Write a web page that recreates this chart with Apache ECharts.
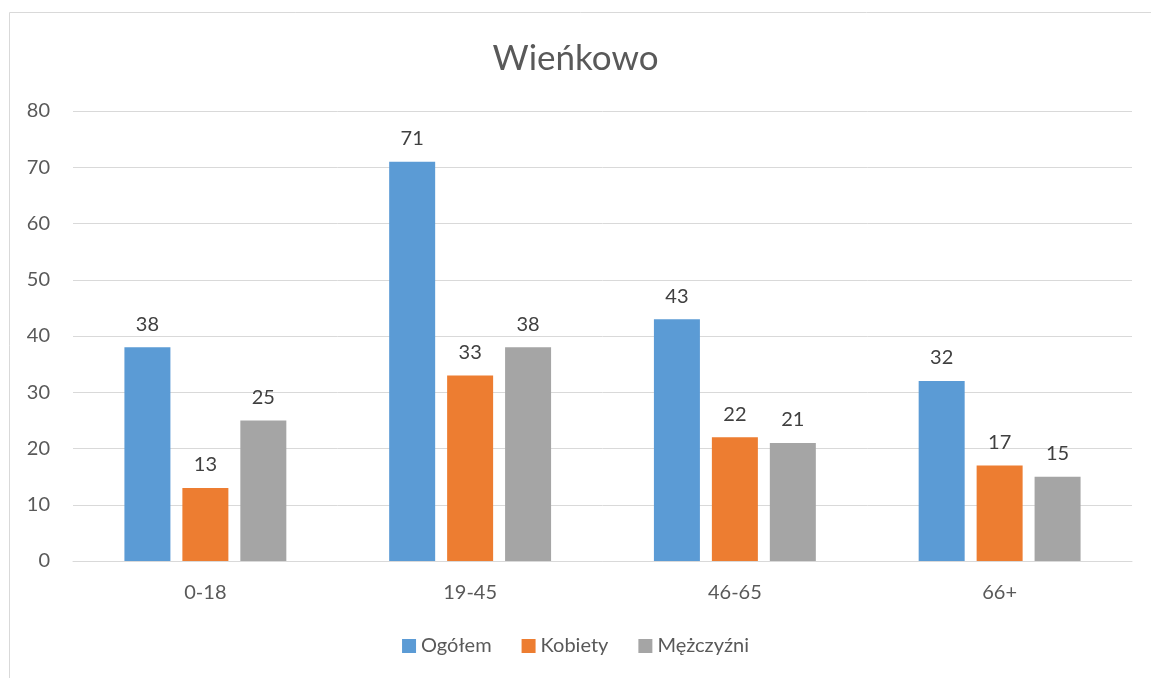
<!DOCTYPE html>
<html>
<head>
  <meta charset="utf-8" />
  <title>Wieńkowo</title>
  <style>
    html, body { margin: 0; padding: 0; background: #fff; }
    #main { width: 1151px; height: 678px; }
  </style>
</head>
<body>
  <div id="main"></div>
  <script src="https://cdn.jsdelivr.net/npm/echarts@6/dist/echarts.min.js"></script>
  <script>
    // data
    var categories = ['0-18', '19-45', '46-65', '66+'];
    var ogolem = [38, 71, 43, 32];
    var kobiety = [13, 33, 22, 17];
    var mezczyzni = [25, 38, 21, 15];
    var yTicks = { min: 0, max: 80, interval: 10 };

    var font = 'Lato, "Open Sans", sans-serif';
    var myChart = echarts.init(document.getElementById('main'));

    function barSeries(name, data, color) {
      return {
        name: name,
        type: 'bar',
        data: data,
        barWidth: 46,
        barGap: '26%',
        itemStyle: { color: color },
        label: {
          show: true,
          position: 'top',
          distance: 13,
          color: '#404040',
          fontSize: 20,
          fontFamily: font
        }
      };
    }

    var option = {
      animation: false,
      textStyle: { fontFamily: font },
      title: {
        text: 'Wieńkowo',
        left: 'center',
        top: 36,
        textStyle: { color: '#595959', fontSize: 35, fontWeight: 'normal', fontFamily: font }
      },
      legend: {
        bottom: 17,
        left: 'center',
        itemWidth: 14,
        itemHeight: 14,
        itemGap: 30,
        icon: 'rect',
        textStyle: { color: '#595959', fontSize: 20, fontFamily: font },
        data: ['Ogółem', 'Kobiety', 'Mężczyźni']
      },
      grid: { left: 73, right: 19, top: 111, bottom: 117 },
      xAxis: {
        type: 'category',
        data: categories,
        axisTick: { show: false },
        axisLine: { lineStyle: { color: '#d9d9d9', width: 1 } },
        axisLabel: { color: '#595959', fontSize: 20, margin: 22, fontFamily: font }
      },
      yAxis: {
        type: 'value',
        min: yTicks.min,
        max: yTicks.max,
        interval: yTicks.interval,
        axisLine: { show: false },
        axisTick: { show: false },
        splitLine: { lineStyle: { color: '#d9d9d9', width: 1 } },
        axisLabel: { color: '#595959', fontSize: 20, margin: 23, fontFamily: font }
      },
      graphic: [{
        type: 'rect',
        shape: { x: 9.5, y: 12.5, width: 1300, height: 800 },
        style: { fill: 'none', stroke: '#d9d9d9', lineWidth: 1 },
        silent: true
      }],
      series: [
        barSeries('Ogółem', ogolem, '#5b9bd5'),
        barSeries('Kobiety', kobiety, '#ed7d31'),
        barSeries('Mężczyźni', mezczyzni, '#a5a5a5')
      ]
    };
    myChart.setOption(option);
  </script>
</body>
</html>
